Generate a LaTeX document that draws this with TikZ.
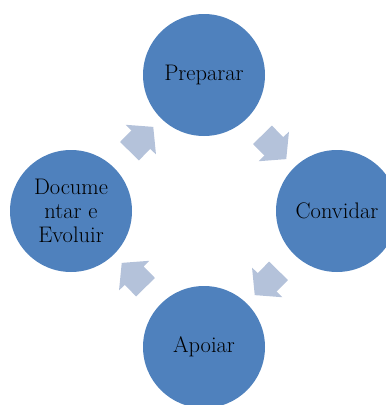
\documentclass[tikz,border=0pt]{standalone}
\usepackage{tikz}
\usetikzlibrary{shapes.arrows,calc}
\definecolor{stageBlue}{RGB}{79,129,189}
\definecolor{flowGray}{RGB}{180,194,218}

\begin{document}
\begin{tikzpicture}[x=1pt,y=-1pt,
  stage/.style={circle, fill=stageBlue, minimum size=122pt, inner sep=0pt,
    align=center, font=\fontsize{22.5}{24}\selectfont},
  flow/.style={single arrow, fill=flowGray, inner xsep=0pt, inner ysep=13pt,
    minimum height=34pt, minimum width=42pt,
    single arrow head extend=8pt, single arrow tip angle=100,
    sloped, allow upside down}]
  \useasboundingbox (0,0) rectangle (386,405);
  \clip (0,0) rectangle (386,405);

  % Stages of the cycle
  \node[stage] (prep) at (204,75) {Preparar};
  \node[stage] (conv) at (337,211) {Convidar};
  \node[stage] (apoi) at (204,347) {Apoiar};
  \node[stage] (doc) at (71,211) {Docume\\ntar e\\Evoluir};

  % Arrows between stages
  \foreach \from/\to in {doc/prep, prep/conv, conv/apoi, apoi/doc}
    \path (\from) -- node[flow] {} (\to);
\end{tikzpicture}
\end{document}
